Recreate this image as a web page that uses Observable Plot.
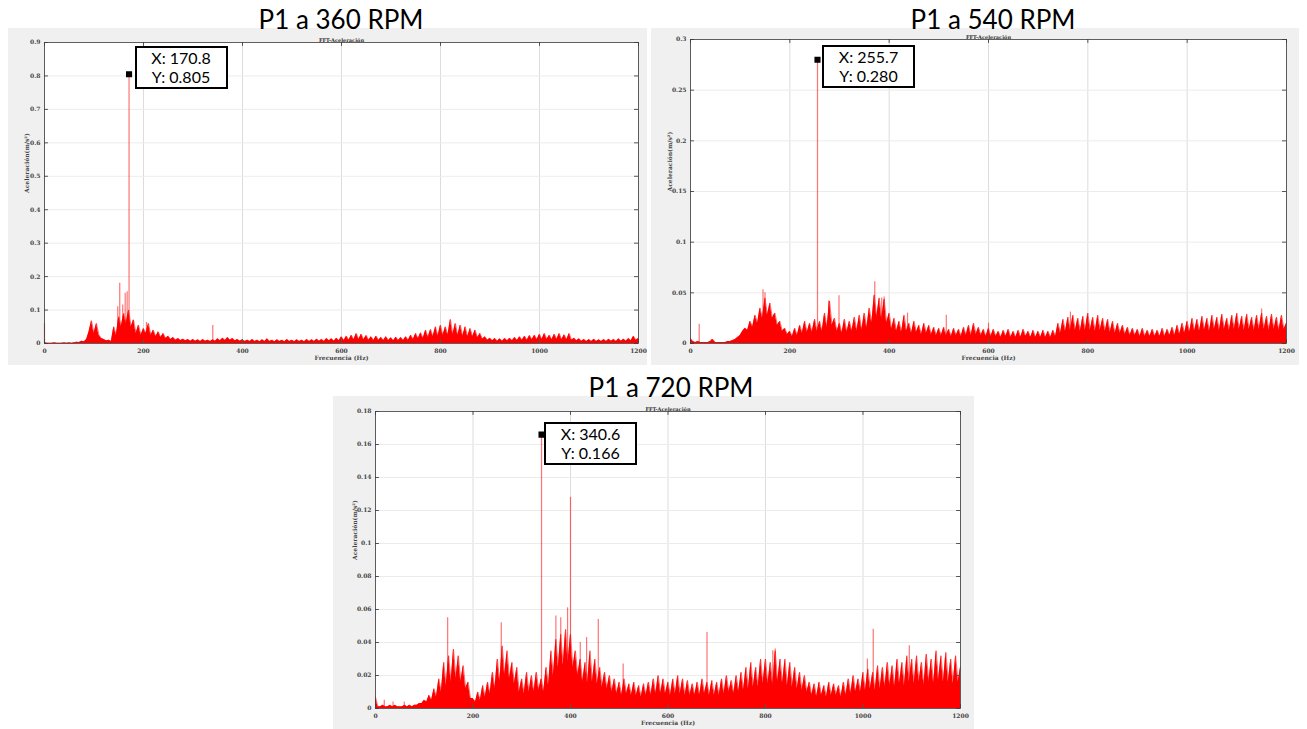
<!DOCTYPE html>
<html><head><meta charset="utf-8">
<script src="https://cdn.jsdelivr.net/npm/d3@7"></script>
<script src="https://cdn.jsdelivr.net/npm/@observablehq/plot@0.6"></script>
<style>
body{margin:0;background:#fff;}
#root{position:relative;width:1307px;height:729px;overflow:hidden;font-family:Lato,"Open Sans",sans-serif;}
.panel{position:absolute;}
.bigtitle{position:absolute;font-size:26px;color:#000;white-space:nowrap;transform:translateX(-50%);line-height:0.8;}
.tip{position:absolute;border:2px solid #000;background:#fff;font-size:16px;line-height:19px;text-align:center;box-sizing:border-box;color:#000;}
</style></head><body><div id="root"></div>
<script>
// ---------- data ----------
const STEP_HZ = 5; // spectrum sampled every 5 Hz from 0 to 1200 Hz
const xTicks = [0, 200, 400, 600, 800, 1000, 1200];
const yTicks360 = [0, 0.1, 0.2, 0.3, 0.4, 0.5, 0.6, 0.7, 0.8, 0.9];
const yTicks540 = [0, 0.05, 0.1, 0.15, 0.2, 0.25, 0.3];
const yTicks720 = [0, 0.02, 0.04, 0.06, 0.08, 0.1, 0.12, 0.14, 0.16, 0.18];
const titles = ["P1 a 360 RPM", "P1 a 540 RPM", "P1 a 720 RPM"];
const tipX = [170.8, 255.7, 340.6];
const tipY = [0.805, 0.280, 0.166];

const amp360 = [
0.003,0.001,0.001,0.001,0.002,0.001,0.001,0.001,0.002,0.001,0.002,0.001,0.002,0.004,0.003,0.007,0.005,0.012,0.035,0.068,
0.03,0.06,0.025,0.015,0.012,0.008,0.01,0.006,0.05,0.025,0.08,0.05,0.09,0.06,0.1,0.05,0.07,0.03,0.055,0.025,
0.045,0.03,0.06,0.025,0.04,0.02,0.035,0.018,0.03,0.015,0.022,0.012,0.018,0.01,0.015,0.009,0.013,0.008,0.012,0.007,
0.012,0.007,0.011,0.006,0.012,0.007,0.01,0.006,0.011,0.007,0.014,0.008,0.016,0.009,0.018,0.01,0.015,0.008,0.012,0.007,
0.011,0.006,0.01,0.006,0.012,0.006,0.01,0.005,0.011,0.006,0.014,0.006,0.01,0.005,0.011,0.006,0.01,0.005,0.012,0.006,
0.01,0.005,0.011,0.006,0.01,0.005,0.012,0.006,0.011,0.006,0.013,0.007,0.012,0.006,0.015,0.008,0.014,0.007,0.016,0.008,
0.02,0.009,0.022,0.01,0.025,0.011,0.03,0.012,0.028,0.011,0.024,0.01,0.02,0.009,0.022,0.01,0.018,0.009,0.02,0.009,
0.017,0.008,0.019,0.009,0.018,0.009,0.02,0.01,0.025,0.012,0.03,0.014,0.032,0.015,0.04,0.018,0.042,0.02,0.05,0.022,
0.055,0.024,0.05,0.025,0.072,0.026,0.06,0.024,0.055,0.022,0.05,0.02,0.045,0.02,0.04,0.017,0.03,0.013,0.02,0.01,
0.016,0.008,0.015,0.007,0.014,0.007,0.015,0.008,0.016,0.008,0.018,0.009,0.02,0.01,0.022,0.01,0.024,0.011,0.025,0.011,
0.028,0.012,0.03,0.012,0.025,0.011,0.028,0.012,0.03,0.011,0.026,0.011,0.03,0.01,0.016,0.008,0.014,0.007,0.012,0.006,
0.012,0.006,0.013,0.006,0.011,0.006,0.012,0.006,0.013,0.007,0.012,0.006,0.014,0.007,0.013,0.007,0.015,0.008,0.022,0.01,
0.015];
const spikeF360 = [0, 148, 152, 158, 163, 167, 170.8, 179, 206, 340];
const spikeA360 = [0.06, 0.11, 0.18, 0.115, 0.15, 0.155, 0.805, 0.07, 0.063, 0.054];

const amp540 = [
0.005,0.002,0.001,0.002,0.001,0.001,0.001,0.001,0.002,0.004,0.001,0.001,0.001,0.001,0.001,0.002,0.002,0.003,0.004,0.006,
0.008,0.012,0.015,0.013,0.022,0.016,0.028,0.02,0.035,0.025,0.045,0.028,0.04,0.025,0.03,0.018,0.022,0.012,0.015,0.009,
0.012,0.007,0.015,0.008,0.018,0.01,0.022,0.011,0.02,0.011,0.024,0.012,0.022,0.012,0.03,0.016,0.042,0.018,0.025,0.012,
0.02,0.01,0.024,0.011,0.022,0.012,0.026,0.012,0.028,0.013,0.03,0.015,0.035,0.02,0.048,0.026,0.045,0.024,0.044,0.02,
0.03,0.014,0.025,0.012,0.022,0.011,0.028,0.012,0.02,0.01,0.022,0.011,0.018,0.009,0.02,0.01,0.018,0.009,0.016,0.008,
0.015,0.008,0.016,0.008,0.014,0.007,0.015,0.008,0.014,0.007,0.016,0.008,0.018,0.008,0.02,0.009,0.016,0.008,0.014,0.007,
0.015,0.007,0.014,0.007,0.012,0.006,0.013,0.007,0.014,0.006,0.012,0.006,0.013,0.006,0.014,0.007,0.012,0.006,0.013,0.006,
0.012,0.006,0.013,0.006,0.012,0.006,0.013,0.007,0.02,0.01,0.024,0.012,0.026,0.013,0.028,0.013,0.025,0.012,0.027,0.013,
0.03,0.013,0.026,0.012,0.028,0.013,0.025,0.012,0.024,0.011,0.022,0.01,0.02,0.01,0.018,0.009,0.016,0.008,0.015,0.008,
0.014,0.007,0.015,0.007,0.013,0.007,0.014,0.007,0.013,0.007,0.015,0.007,0.014,0.008,0.016,0.008,0.018,0.009,0.02,0.01,
0.022,0.011,0.025,0.012,0.024,0.012,0.027,0.013,0.025,0.012,0.028,0.014,0.026,0.013,0.029,0.014,0.025,0.013,0.028,0.014,
0.03,0.014,0.027,0.013,0.029,0.014,0.026,0.013,0.028,0.014,0.03,0.014,0.027,0.013,0.029,0.014,0.026,0.013,0.028,0.014,
0.02];
const spikeF540 = [17.5, 42, 146, 150, 255.7, 278, 299, 371, 385, 390, 437, 515, 600, 765, 1150];
const spikeA540 = [0.019, 0.004, 0.053, 0.05, 0.28, 0.042, 0.047, 0.061, 0.045, 0.046, 0.03, 0.028, 0.02, 0.031, 0.034];

const amp720 = [
0.007,0.001,0.001,0.002,0.001,0.001,0.002,0.001,0.002,0.001,0.001,0.001,0.002,0.001,0.002,0.001,0.002,0.002,0.003,0.003,
0.005,0.004,0.008,0.005,0.012,0.007,0.018,0.01,0.028,0.014,0.032,0.016,0.036,0.018,0.032,0.016,0.026,0.012,0.016,0.006,
0.006,0.004,0.01,0.005,0.014,0.007,0.016,0.009,0.022,0.012,0.03,0.016,0.038,0.02,0.035,0.018,0.028,0.015,0.025,0.01,
0.018,0.009,0.022,0.01,0.02,0.01,0.022,0.011,0.018,0.01,0.025,0.014,0.035,0.02,0.042,0.025,0.045,0.026,0.048,0.028,
0.045,0.025,0.035,0.02,0.03,0.016,0.028,0.015,0.035,0.016,0.03,0.015,0.025,0.013,0.022,0.012,0.02,0.01,0.018,0.009,
0.016,0.008,0.018,0.009,0.015,0.008,0.016,0.008,0.014,0.007,0.015,0.008,0.016,0.008,0.018,0.009,0.02,0.009,0.018,0.009,
0.016,0.008,0.018,0.009,0.02,0.009,0.018,0.008,0.017,0.008,0.015,0.008,0.016,0.008,0.018,0.009,0.016,0.008,0.017,0.008,
0.016,0.008,0.018,0.009,0.02,0.01,0.017,0.009,0.02,0.01,0.022,0.011,0.025,0.012,0.028,0.013,0.025,0.013,0.03,0.015,
0.03,0.015,0.028,0.014,0.035,0.016,0.03,0.015,0.03,0.014,0.028,0.013,0.025,0.012,0.022,0.011,0.02,0.01,0.016,0.008,
0.015,0.007,0.016,0.008,0.014,0.007,0.016,0.008,0.015,0.008,0.014,0.007,0.016,0.008,0.018,0.009,0.02,0.01,0.018,0.01,
0.022,0.011,0.024,0.012,0.022,0.011,0.026,0.012,0.025,0.013,0.028,0.014,0.026,0.013,0.03,0.015,0.028,0.014,0.032,0.016,
0.03,0.015,0.032,0.016,0.028,0.014,0.033,0.016,0.03,0.015,0.035,0.017,0.032,0.016,0.034,0.016,0.03,0.015,0.032,0.016,
0.025];
const spikeF720 = [18, 36, 59, 148, 258, 340.6, 370, 380, 394, 400, 420, 433, 457, 508, 680, 815, 820, 1009, 1021, 1095];
const spikeA720 = [0.005, 0.004, 0.004, 0.055, 0.052, 0.166, 0.056, 0.055, 0.061, 0.128, 0.04, 0.043, 0.054, 0.027, 0.046, 0.035, 0.036, 0.03, 0.048, 0.038];

// ---------- layout ----------
const panels = [
  {amp: amp360, sf: spikeF360, sa: spikeA360, yTicks: yTicks360, left: 8, top: 28, w: 639, h: 337,
   m: [14, 9, 22, 36], ylabDx: -17, titleX: 341, titleTop: 9, tipDx: 6, tipDy: -28},
  {amp: amp540, sf: spikeF540, sa: spikeA540, yTicks: yTicks540, left: 651, top: 28, w: 648, h: 337,
   m: [11, 13, 22, 39], ylabDx: -20, titleX: 993, titleTop: 9, tipDx: 5, tipDy: -14},
  {amp: amp720, sf: spikeF720, sa: spikeA720, yTicks: yTicks720, left: 333, top: 396, w: 641, h: 333,
   m: [15, 14, 21, 42], ylabDx: -20, titleX: 671, titleTop: 377, tipDx: 3, tipDy: -12}
];

const root = document.getElementById("root");
panels.forEach((p, k) => {
  if (p.amp.length !== 241) throw new Error("bad length " + k + ": " + p.amp.length);
  const data = p.amp.map((a, i) => ({f: i * STEP_HZ, a}));
  const spikes = p.sf.map((f, i) => ({f, a: p.sa[i]}));
  const yMax = p.yTicks[p.yTicks.length - 1];
  const fmt = d => String(+d.toFixed(2));
  const plot = Plot.plot({
    width: p.w, height: p.h,
    marginTop: p.m[0], marginRight: p.m[1], marginBottom: p.m[2], marginLeft: p.m[3],
    x: {domain: [0, 1200]},
    y: {domain: [0, yMax]},
    style: {background: "#f0f0f0", fontFamily: "'DejaVu Serif', serif", fontSize: "6px", color: "#333"},
    marks: [
      Plot.frame({fill: "white", stroke: null}),
      Plot.gridX(xTicks, {stroke: "#dcdcdc", strokeOpacity: 1}),
      Plot.gridY(p.yTicks, {stroke: "#ececec", strokeOpacity: 1}),
      Plot.areaY(data, {x: "f", y: "a", fill: "#ff0000"}),
      Plot.lineY(data, {x: "f", y: "a", stroke: "#ff0000", strokeWidth: 0.7, strokeOpacity: 0.8}),
      Plot.ruleX(spikes, {x: "f", y1: 0, y2: "a", stroke: "#ff0000", strokeOpacity: 0.55, strokeWidth: 1.2}),
      Plot.ruleX(xTicks, {x: d => d, y1: 0, y2: yMax * 0.013, stroke: "#555"}),
      Plot.ruleX(xTicks, {x: d => d, y1: yMax, y2: yMax * 0.987, stroke: "#555"}),
      Plot.ruleY(p.yTicks, {y: d => d, x1: 0, x2: 8, stroke: "#555"}),
      Plot.ruleY(p.yTicks, {y: d => d, x1: 1200, x2: 1192, stroke: "#555"}),
      Plot.frame({stroke: "#3c3c3c", strokeWidth: 0.8}),
      Plot.axisX(xTicks, {tickSize: 0, tickPadding: 5, label: null, tickFormat: d => String(d), fontWeight: "bold", fill: "#444"}),
      Plot.axisY(p.yTicks, {tickSize: 0, tickPadding: 4, label: null, tickFormat: fmt, fontWeight: "bold", fill: "#444"}),
      Plot.text(["Frecuencia (Hz)"], {frameAnchor: "bottom", dy: 16, fill: "#444", fontWeight: "bold"}),
      Plot.text(["Aceleración(m/s²)"], {frameAnchor: "left", dx: p.ylabDx, rotate: -90, fill: "#444", fontWeight: "bold"}),
      Plot.text(["FFT-Aceleración"], {frameAnchor: "top", dy: -4, fontSize: 5, fontWeight: "bold", fill: "#333"}),
      Plot.dot([{f: tipX[k], a: tipY[k]}], {x: "f", y: "a", symbol: "square", fill: "black", stroke: "black", r: 2.6})
    ]
  });
  plot.classList.add("panel");
  plot.style.left = p.left + "px";
  plot.style.top = p.top + "px";
  root.appendChild(plot);

  const t = document.createElement("div");
  t.className = "bigtitle";
  t.textContent = titles[k];
  t.style.left = p.titleX + "px";
  t.style.top = p.titleTop + "px";
  root.appendChild(t);

  const px = p.left + plot.scale("x").apply(tipX[k]);
  const py = p.top + plot.scale("y").apply(tipY[k]);
  const tip = document.createElement("div");
  tip.className = "tip";
  tip.style.left = (px + p.tipDx) + "px";
  tip.style.top = (py + p.tipDy) + "px";
  tip.style.width = "93px";
  tip.style.height = "43px";
  tip.innerHTML = "X: " + tipX[k].toFixed(1) + "<br>Y: " + tipY[k].toFixed(3);
  root.appendChild(tip);
});
</script></body></html>
